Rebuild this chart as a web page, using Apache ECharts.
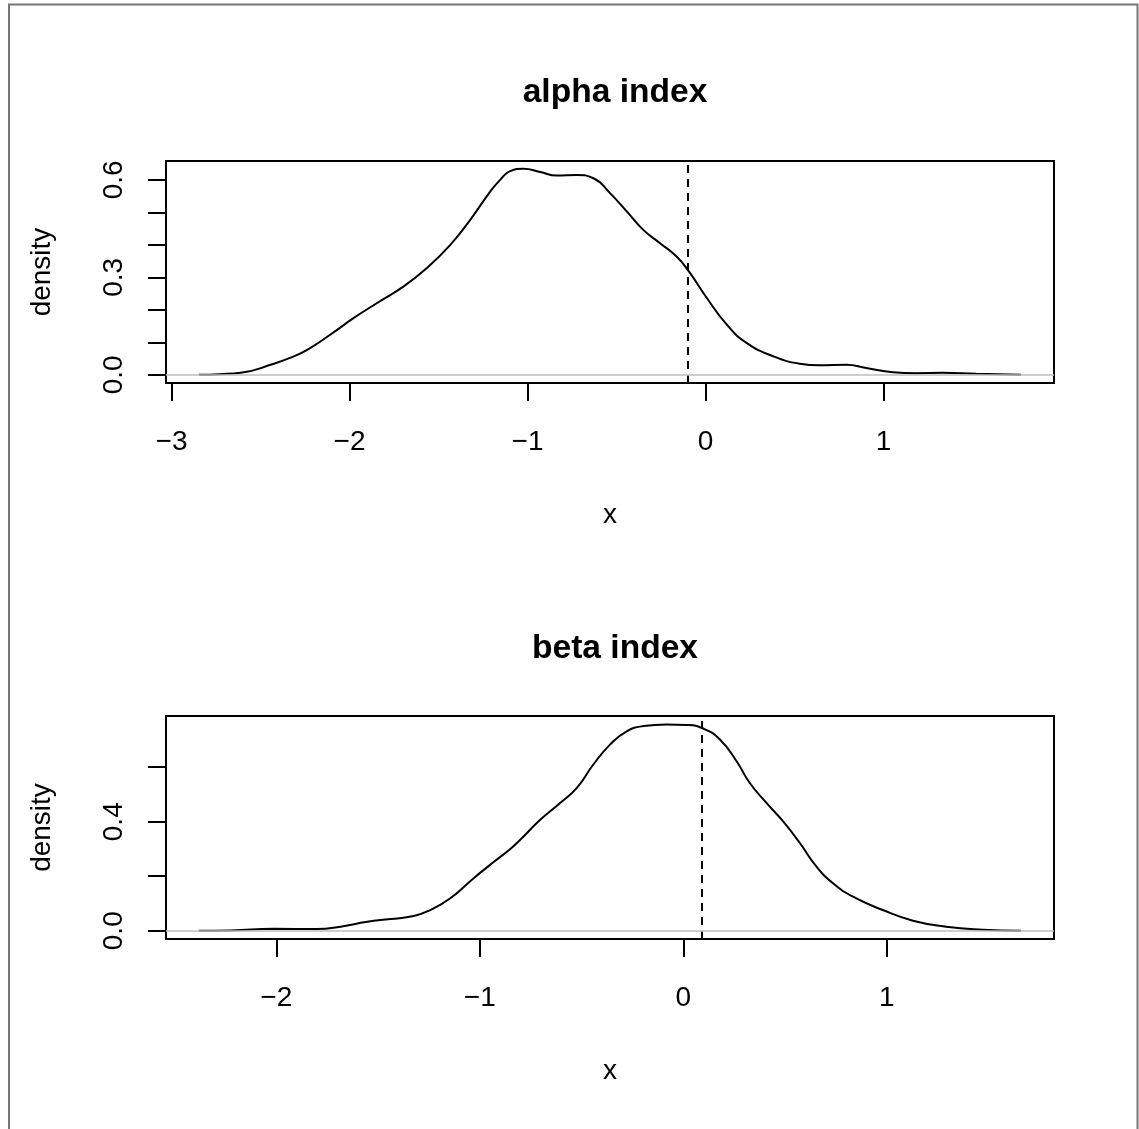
<!DOCTYPE html>
<html>
<head>
<meta charset="utf-8">
<script src="https://cdn.jsdelivr.net/npm/echarts@6/dist/echarts.min.js"></script>
<style>
  html, body { margin: 0; padding: 0; background: #ffffff; }
  #chart { width: 1139px; height: 1129px; }
</style>
</head>
<body>
<div id="chart"></div>
<script>
// ---- data ----
const titles = ['alpha index', 'beta index'];

const alphaX = [-2.846, -2.73, -2.612, -2.425, -2.33, -2.238, -2.107, -1.976, -1.845, -1.696, -1.565, -1.434, -1.322, -1.210, -1.154, -1.098, -1.023, -0.929, -0.836, -0.724, -0.630, -0.537, -0.443, -0.350, -0.256, -0.163, -0.094, 0.006, 0.118, 0.230, 0.379, 0.529, 0.641, 0.791, 0.903, 1.052, 1.183, 1.333, 1.520, 1.772];
const alphaY = [0.000, 0.002, 0.006, 0.034, 0.053, 0.077, 0.124, 0.175, 0.221, 0.272, 0.329, 0.400, 0.477, 0.564, 0.600, 0.627, 0.634, 0.624, 0.613, 0.615, 0.605, 0.559, 0.503, 0.446, 0.405, 0.364, 0.318, 0.237, 0.155, 0.098, 0.057, 0.034, 0.029, 0.031, 0.021, 0.008, 0.005, 0.006, 0.003, 0.000];
const alphaRef = -0.097;

const betaX = [-2.380, -2.224, -2.012, -1.799, -1.684, -1.553, -1.439, -1.325, -1.243, -1.145, -1.030, -0.932, -0.850, -0.801, -0.703, -0.605, -0.523, -0.442, -0.360, -0.278, -0.196, -0.081, 0.017, 0.098, 0.180, 0.262, 0.327, 0.409, 0.491, 0.573, 0.654, 0.736, 0.834, 0.981, 1.129, 1.292, 1.472, 1.660];
const betaY = [0.000, 0.001, 0.007, 0.006, 0.015, 0.033, 0.043, 0.054, 0.076, 0.119, 0.193, 0.252, 0.300, 0.334, 0.407, 0.469, 0.524, 0.610, 0.683, 0.732, 0.751, 0.757, 0.755, 0.742, 0.702, 0.622, 0.542, 0.469, 0.401, 0.322, 0.236, 0.174, 0.125, 0.076, 0.037, 0.015, 0.004, 0.000];
const betaRef = 0.093;

const alphaXTicks = [-3, -2, -1, 0, 1];
const alphaYTicks = [0, 0.1, 0.2, 0.3, 0.4, 0.5, 0.6];
const alphaYLabels = [0, 0.3, 0.6];
const betaXTicks = [-2, -1, 0, 1];
const betaYTicks = [0, 0.2, 0.4, 0.6];
const betaYLabels = [0, 0.4];

const xRanges = [[-3.031, 1.957], [-2.542, 1.822]];
const yRanges = [[-0.0253, 0.658], [-0.0303, 0.788]];

// ---- build ----
const FONT = '"Liberation Sans", Arial, Helvetica, sans-serif';
const zip = (xs, ys) => xs.map((x, i) => [x, ys[i]]);
const fmtX = v => String(v).replace('-', '\u2212');
const fmtY = v => Number(v).toFixed(1);

const grids = [
  { left: 166, top: 161, width: 888, height: 222 },
  { left: 166, top: 716, width: 888, height: 223 }
].map(g => Object.assign({ show: true, borderColor: '#000', borderWidth: 2, backgroundColor: 'transparent' }, g));

const panels = [
  { xs: alphaX, ys: alphaY, ref: alphaRef, xt: alphaXTicks, yt: alphaYTicks, yl: alphaYLabels },
  { xs: betaX, ys: betaY, ref: betaRef, xt: betaXTicks, yt: betaYTicks, yl: betaYLabels }
];

const tickStyle = { show: true, inside: false, length: 18, lineStyle: { color: '#000', width: 2 } };

const xAxes = panels.map((p, i) => ({
  type: 'value', gridIndex: i, position: 'bottom', min: xRanges[i][0], max: xRanges[i][1],
  axisLine: { show: false, onZero: false },
  splitLine: { show: false },
  axisTick: Object.assign({ customValues: p.xt }, tickStyle),
  axisLabel: { customValues: p.xt, formatter: fmtX, color: '#000', fontSize: 28, fontFamily: FONT, margin: 45 },
  name: 'x', nameLocation: 'middle', nameGap: 118,
  nameTextStyle: { color: '#000', fontSize: 28, fontFamily: FONT }
}));

const yAxes = panels.map((p, i) => ({
  type: 'value', gridIndex: i, position: 'left', min: yRanges[i][0], max: yRanges[i][1],
  axisLine: { show: false, onZero: false },
  splitLine: { show: false },
  axisTick: Object.assign({ customValues: p.yt }, tickStyle),
  axisLabel: { customValues: p.yl, formatter: fmtY, rotate: 90, color: '#000', fontSize: 28, fontFamily: FONT, margin: 38 },
  name: 'density', nameLocation: 'middle', nameGap: 110, nameRotate: 90,
  nameTextStyle: { color: '#000', fontSize: 28, fontFamily: FONT }
}));

const series = panels.map((p, i) => ({
  type: 'line', xAxisIndex: i, yAxisIndex: i,
  data: zip(p.xs, p.ys),
  smooth: 0.5,
  showSymbol: false, symbol: 'none',
  lineStyle: { color: '#000', width: 2 },
  silent: true, animation: false,
  markLine: {
    silent: true, symbol: ['none', 'none'], label: { show: false }, animation: false,
    data: [
      { xAxis: p.ref, lineStyle: { color: '#000', type: [8, 6], width: 2 } },
      { yAxis: 0, lineStyle: { color: '#bebebe', type: 'solid', width: 1.5 } }
    ]
  }
}));

const chart = echarts.init(document.getElementById('chart'), null, { renderer: 'canvas' });
chart.setOption({
  backgroundColor: '#ffffff',
  animation: false,
  title: titles.map((t, i) => ({
    text: t, left: 610, top: i === 0 ? 71 : 627, textAlign: 'center',
    textStyle: { color: '#000', fontSize: 33.6, fontWeight: 'bold', fontFamily: FONT }
  })),
  grid: grids,
  xAxis: xAxes,
  yAxis: yAxes,
  series: series,
  graphic: [{
    type: 'rect', silent: true, z: -1,
    shape: { x: 9, y: 4.5, width: 1128.5, height: 1200 },
    style: { fill: 'none', stroke: '#777', lineWidth: 2 }
  }]
});
</script>
</body>
</html>
